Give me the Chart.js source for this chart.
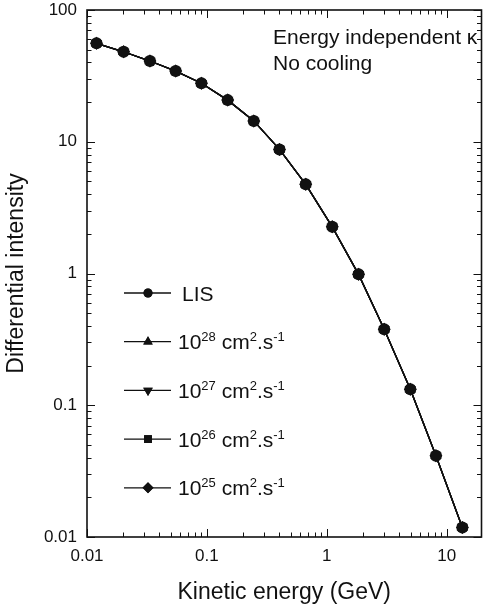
<!DOCTYPE html>
<html>
<head>
<meta charset="utf-8">
<script src="https://cdn.jsdelivr.net/npm/chart.js@4.4.0/dist/chart.umd.min.js"></script>
<style>
  html, body { margin: 0; padding: 0; background: #fff; }
  #wrap { width: 488px; height: 614px; }
</style>
</head>
<body>
<div id="wrap"><canvas id="chart"></canvas></div>
<script>
// kinetic energy (GeV) and differential intensity
const energies = [0.0120, 0.0202, 0.0335, 0.0549, 0.090, 0.149, 0.246, 0.403, 0.667, 1.11, 1.84, 3.01, 4.97, 8.13, 13.5];
const lis  = [55.9, 48.2, 41.0, 34.4, 27.8, 20.7, 14.4, 8.75, 4.75, 2.26, 0.985, 0.377, 0.132, 0.0413, 0.0118];
const k28 = [55.9, 48.2, 41.0, 34.4, 27.8, 20.7, 14.4, 8.75, 4.75, 2.26, 0.985, 0.377, 0.132, 0.0413, 0.0118];
const k27 = [55.9, 48.2, 41.0, 34.4, 27.8, 20.7, 14.4, 8.75, 4.75, 2.26, 0.985, 0.377, 0.132, 0.0413, 0.0118];
const k26 = [55.9, 48.2, 41.0, 34.4, 27.8, 20.7, 14.4, 8.75, 4.75, 2.26, 0.985, 0.377, 0.132, 0.0413, 0.0118];
const k25 = [55.9, 48.2, 41.0, 34.4, 27.8, 20.7, 14.4, 8.75, 4.75, 2.26, 0.985, 0.377, 0.132, 0.0413, 0.0118];

const seriesNames = ['LIS', '1e28', '1e27', '1e26', '1e25'];
const legendExponents = [null, '28', '27', '26', '25'];

const xDecades = [0.01, 0.1, 1, 10];
const xTickLabels = ['0.01', '0.1', '1', '10'];
const yDecades = [0.01, 0.1, 1, 10, 100];
const yTickLabels = ['0.01', '0.1', '1', '10', '100'];

const noteLines = ['Energy independent \u03BA', 'No cooling'];

const FONT = '"Liberation Sans", Arial, sans-serif';
const INK = '#111';

Chart.defaults.font.family = FONT;
Chart.defaults.color = INK;

function withMinors(decades, max) {
  const out = [];
  decades.forEach(d => {
    for (let m = 1; m <= 9; m++) {
      const v = +(d * m).toPrecision(3);
      if (v <= max) out.push(v);
    }
  });
  return out;
}

// marker shapes: plot radius, legend radius
const styles = [
  { pointStyle: 'circle', rotation: 0, r: 6, lr: 4.5 },
  { pointStyle: 'triangle', rotation: 0, r: 6.5, lr: 5.5 },
  { pointStyle: 'triangle', rotation: 180, r: 6.5, lr: 5.5 },
  { pointStyle: 'rect', rotation: 0, r: 6, lr: 5.5 },
  { pointStyle: 'rectRot', rotation: 0, r: 6.5, lr: 5.5 }
];

const allSeries = [lis, k28, k27, k26, k25];

const datasets = allSeries.map((vals, i) => ({
  label: seriesNames[i],
  data: energies.map((e, j) => ({ x: e, y: vals[j] })),
  borderColor: INK,
  borderWidth: 1.3,
  backgroundColor: INK,
  pointBackgroundColor: INK,
  pointBorderColor: INK,
  pointBorderWidth: 0,
  pointStyle: styles[i].pointStyle,
  pointRotation: styles[i].rotation,
  pointRadius: styles[i].r,
  tension: 0,
  clip: false
}));

function drawRich(ctx, parts, x, baseline) {
  parts.forEach(p => {
    ctx.font = (p.sup ? '13px ' : '21px ') + FONT;
    ctx.fillText(p.t, x, p.sup ? baseline - 8 : baseline);
    x += ctx.measureText(p.t).width;
  });
}

const framePlugin = {
  id: 'frame',
  beforeDatasetsDraw(chart) {
    const { ctx, chartArea: a, scales: { x, y } } = chart;
    ctx.save();
    ctx.strokeStyle = INK;
    ctx.lineWidth = 1;
    ctx.beginPath();
    x.ticks.forEach(t => {
      const px = Math.round(x.getPixelForValue(t.value)) + 0.5;
      const len = xDecades.includes(t.value) ? 8 : 4.5;
      ctx.moveTo(px, a.bottom); ctx.lineTo(px, a.bottom - len);
      ctx.moveTo(px, a.top); ctx.lineTo(px, a.top + len);
    });
    y.ticks.forEach(t => {
      const py = Math.round(y.getPixelForValue(t.value)) + 0.5;
      const len = yDecades.includes(t.value) ? 8 : 4.5;
      ctx.moveTo(a.left, py); ctx.lineTo(a.left + len, py);
      ctx.moveTo(a.right, py); ctx.lineTo(a.right - len, py);
    });
    ctx.stroke();
    ctx.lineWidth = 1.6;
    ctx.strokeRect(a.left, a.top, a.right - a.left, a.bottom - a.top);
    ctx.restore();
  },
  afterDraw(chart) {
    const { ctx, chartArea: a } = chart;
    ctx.save();
    ctx.fillStyle = INK;
    ctx.strokeStyle = INK;
    ctx.textAlign = 'left';
    ctx.textBaseline = 'alphabetic';

    // note top right
    ctx.font = '21px ' + FONT;
    noteLines.forEach((s, i) => ctx.fillText(s, a.left + 186, a.top + 34 + i * 26));

    // legend
    const lx0 = a.left + 37, lx1 = a.left + 84, mx = a.left + 61, tx = a.left + 91;
    seriesNames.forEach((name, i) => {
      const ry = a.top + 283 + i * 48.7;
      ctx.lineWidth = 1.3;
      ctx.beginPath();
      ctx.moveTo(lx0, ry); ctx.lineTo(lx1, ry);
      ctx.stroke();
      Chart.helpers.drawPoint(ctx, {
        pointStyle: styles[i].pointStyle,
        rotation: styles[i].rotation,
        radius: styles[i].lr,
        borderWidth: 0
      }, mx, ry);
      ctx.fill();
      const base = ry + 7.5;
      if (legendExponents[i] === null) {
        drawRich(ctx, [{ t: 'LIS' }], tx + 4, base);
      } else {
        drawRich(ctx, [
          { t: '10' }, { t: legendExponents[i], sup: true },
          { t: ' cm' }, { t: '2', sup: true },
          { t: '.s' }, { t: '-1', sup: true }
        ], tx, base);
      }
    });
    ctx.restore();
  }
};

new Chart(document.getElementById('chart'), {
  type: 'line',
  data: { datasets },
  options: {
    responsive: true,
    maintainAspectRatio: false,
    animation: false,
    layout: { padding: { top: 10, right: 2, left: 0, bottom: 0 } },
    plugins: { legend: { display: false }, tooltip: { enabled: false } },
    scales: {
      x: {
        type: 'logarithmic',
        min: 0.01,
        max: 19.5,
        grid: { display: false, drawTicks: false, tickLength: 0 },
        border: { display: false },
        afterBuildTicks: s => { s.ticks = withMinors(xDecades, 19.5).map(v => ({ value: v })); },
        afterFit: s => { s.height = 77; s.paddingLeft = 0; s.paddingRight = 0; },
        ticks: {
          autoSkip: false,
          maxRotation: 0,
          padding: 9,
          font: { size: 17 },
          color: INK,
          callback: v => { const k = xDecades.indexOf(v); return k >= 0 ? xTickLabels[k] : ''; }
        },
        title: {
          display: true,
          text: 'Kinetic energy (GeV)',
          font: { size: 23 },
          color: INK,
          padding: { top: 0, bottom: 8 }
        }
      },
      y: {
        type: 'logarithmic',
        min: 0.01,
        max: 100,
        grid: { display: false, drawTicks: false, tickLength: 0 },
        border: { display: false },
        afterBuildTicks: s => { s.ticks = withMinors(yDecades, 100).map(v => ({ value: v })); },
        afterFit: s => { s.width = 87; s.paddingTop = 0; s.paddingBottom = 0; },
        ticks: {
          autoSkip: false,
          padding: 10,
          font: { size: 17 },
          color: INK,
          callback: v => { const k = yDecades.indexOf(v); return k >= 0 ? yTickLabels[k] : ''; }
        },
        title: {
          display: true,
          text: 'Differential intensity',
          font: { size: 23 },
          color: INK,
          padding: { top: 3, bottom: 0 }
        }
      }
    }
  },
  plugins: [framePlugin]
});
</script>
</body>
</html>
